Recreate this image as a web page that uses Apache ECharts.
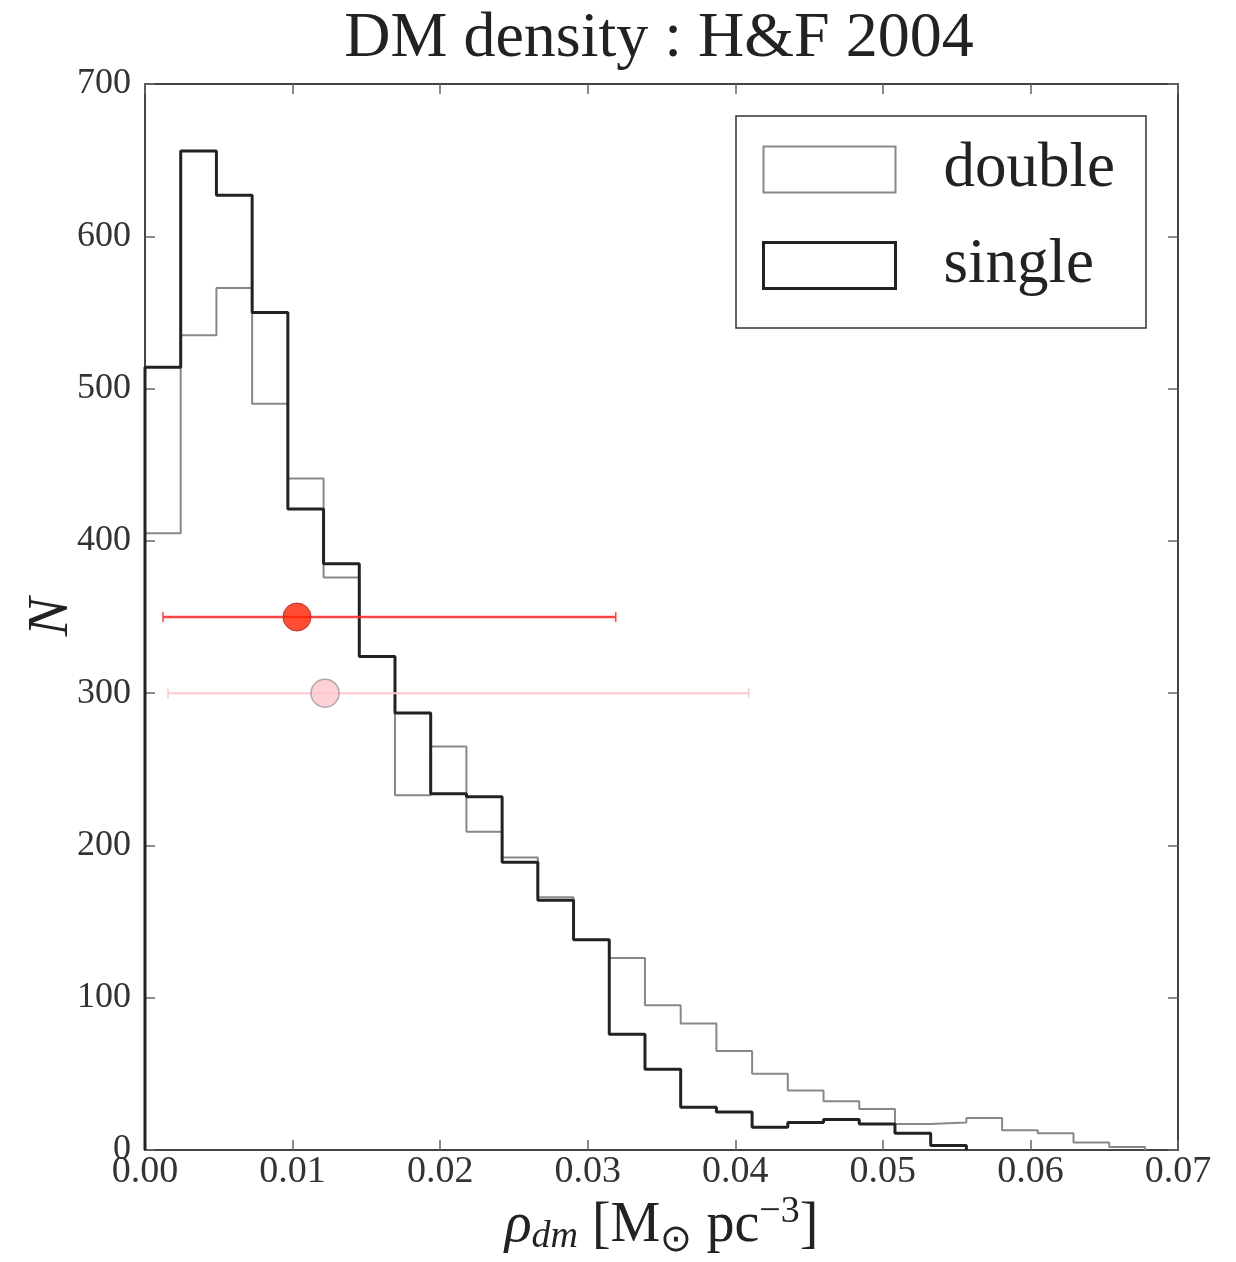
<!DOCTYPE html>
<html><head><meta charset="utf-8">
<script src="https://cdn.jsdelivr.net/npm/echarts@6/dist/echarts.min.js"></script>
<style>html,body{margin:0;padding:0;background:#fff}#c{width:1236px;height:1262px}</style>
</head><body><div id="c"></div>
<script>
// ---- data ----
const binStart = 0.0;
const binWidth = 0.00242;
const singleCounts = [514, 656, 627, 550, 421, 385, 324, 287, 234, 232, 189, 164, 138, 76, 53, 28, 25, 15, 18, 20, 17, 11, 3];
const doubleCounts = [405, 535, 566, 490, 441, 376, 324, 233, 265, 209, 192, 166, 138, 126, 95, 83, 65, 50, 39, 32, 27, 17, 18, 21, 13, 11, 5, 2];
// error-bar points: [x, y, xlow, xhigh]
const redPoint = [0.0103, 350, 0.00122, 0.0319];
const pinkPoint = [0.0122, 300, 0.00156, 0.0409];
const xTicks = [0.00, 0.01, 0.02, 0.03, 0.04, 0.05, 0.06, 0.07];
const yTicks = [0, 100, 200, 300, 400, 500, 600, 700];

function stepPath(counts) {
  const pts = [[binStart, 0]];
  counts.forEach((v, i) => {
    const l = binStart + i * binWidth, r = l + binWidth;
    pts.push([l, v]); pts.push([r, v]);
  });
  pts.push([binStart + counts.length * binWidth, 0]);
  return pts;
}

const FONT = 'Liberation Serif';
const chart = echarts.init(document.getElementById('c'));

function errRender(color, width) {
  return function (params, api) {
    const y = api.value(1);
    const p1 = api.coord([api.value(2), y]);
    const p2 = api.coord([api.value(3), y]);
    const c = 5;
    return {
      type: 'group',
      children: [
        {type: 'line', shape: {x1: p1[0], y1: p1[1], x2: p2[0], y2: p2[1]}, style: {stroke: color, lineWidth: width}},
        {type: 'line', shape: {x1: p1[0], y1: p1[1] - c, x2: p1[0], y2: p1[1] + c}, style: {stroke: color, lineWidth: 1.5}},
        {type: 'line', shape: {x1: p2[0], y1: p2[1] - c, x2: p2[0], y2: p2[1] + c}, style: {stroke: color, lineWidth: 1.5}}
      ]
    };
  };
}

const axisLineStyle = {onZero: false, lineStyle: {color: '#444', width: 2}};
const tickStyle = {show: true, inside: true, length: 10, lineStyle: {color: '#666', width: 1.5}};

chart.setOption({
  animation: false,
  backgroundColor: '#fff',
  title: {
    text: 'DM density : H&F 2004',
    left: 654, top: 2, textAlign: 'center',
    textStyle: {fontFamily: FONT, fontSize: 64, fontWeight: 'normal', color: '#222'}
  },
  legend: {
    orient: 'vertical',
    left: 736, top: 116,
    padding: [22, 31, 31, 26],
    itemWidth: 132, itemHeight: 46, itemGap: 33,
    borderColor: '#333', borderWidth: 1.5, backgroundColor: '#fff',
    textStyle: {fontFamily: FONT, fontSize: 63, color: '#222', padding: [0, 0, 0, 43]},
    data: [
      {name: 'double', icon: 'rect', itemStyle: {color: 'rgba(0,0,0,0)', borderColor: '#888', borderWidth: 2}},
      {name: 'single', icon: 'rect', itemStyle: {color: 'rgba(0,0,0,0)', borderColor: '#222', borderWidth: 3}}
    ]
  },
  grid: {left: 145, right: 58, top: 84, bottom: 112, outerBoundsMode: 'none'},
  xAxis: [{
    type: 'value', min: 0, max: 0.07, interval: 0.01,
    axisLine: axisLineStyle, axisTick: tickStyle, splitLine: {show: false},
    axisLabel: {fontFamily: FONT, fontSize: 38, color: '#333', margin: 3,
      formatter: v => v.toFixed(2)},
    name: '{i|ρ}{sub|dm}{n| [M}{sub2|⊙}{n| pc}{sup|−3}{n|]}',
    nameLocation: 'middle', nameGap: 42, nameMoveOverlap: false,
    nameTextStyle: {
      fontFamily: FONT, fontSize: 56, color: '#222',
      rich: {
        i: {fontFamily: FONT, fontSize: 56, fontStyle: 'italic', color: '#222'},
        sub: {fontFamily: FONT, fontSize: 38, fontStyle: 'italic', color: '#222', padding: [22, 0, 0, 0]},
        n: {fontFamily: FONT, fontSize: 56, color: '#222'},
        sub2: {fontFamily: FONT, fontSize: 38, color: '#222', padding: [30, 0, 0, 0]},
        sup: {fontFamily: FONT, fontSize: 38, color: '#222', padding: [0, 0, 28, 0]}
      }
    }
  }, {
    type: 'value', position: 'top', min: 0, max: 0.07, interval: 0.01,
    axisLine: axisLineStyle, axisTick: tickStyle, axisLabel: {show: false}, splitLine: {show: false}
  }],
  yAxis: [{
    type: 'value', min: 0, max: 700, interval: 100,
    axisLine: axisLineStyle, axisTick: tickStyle, splitLine: {show: false},
    axisLabel: {fontFamily: FONT, fontSize: 36, color: '#333', margin: 14},
    name: 'N', nameLocation: 'middle', nameGap: 64, nameRotate: 90, nameMoveOverlap: false,
    nameTextStyle: {fontFamily: FONT, fontSize: 58, fontStyle: 'italic', color: '#222'}
  }, {
    type: 'value', position: 'right', min: 0, max: 700, interval: 100,
    axisLine: axisLineStyle, axisTick: tickStyle, axisLabel: {show: false}, splitLine: {show: false}
  }],
  series: [
    {name: 'double', type: 'line', data: stepPath(doubleCounts), symbol: 'none',
      lineStyle: {color: '#888', width: 2}, itemStyle: {color: '#888'}, z: 2},
    {name: 'single', type: 'line', data: stepPath(singleCounts), symbol: 'none',
      lineStyle: {color: '#222', width: 3}, itemStyle: {color: '#222'}, z: 3},
    {type: 'custom', renderItem: errRender('rgba(255,50,50,0.9)', 2.5), data: [redPoint], z: 4},
    {type: 'custom', renderItem: errRender('#ffc6cc', 2), data: [pinkPoint], z: 4},
    {type: 'scatter', data: [redPoint.slice(0, 2)], symbol: 'circle', symbolSize: 28,
      itemStyle: {color: '#ff2200', borderColor: '#aa2222', borderWidth: 1}, z: 5},
    {type: 'scatter', data: [pinkPoint.slice(0, 2)], symbol: 'circle', symbolSize: 28,
      itemStyle: {color: '#ffc6cc', borderColor: '#999', borderWidth: 1.5}, z: 5}
  ]
});
</script></body></html>
